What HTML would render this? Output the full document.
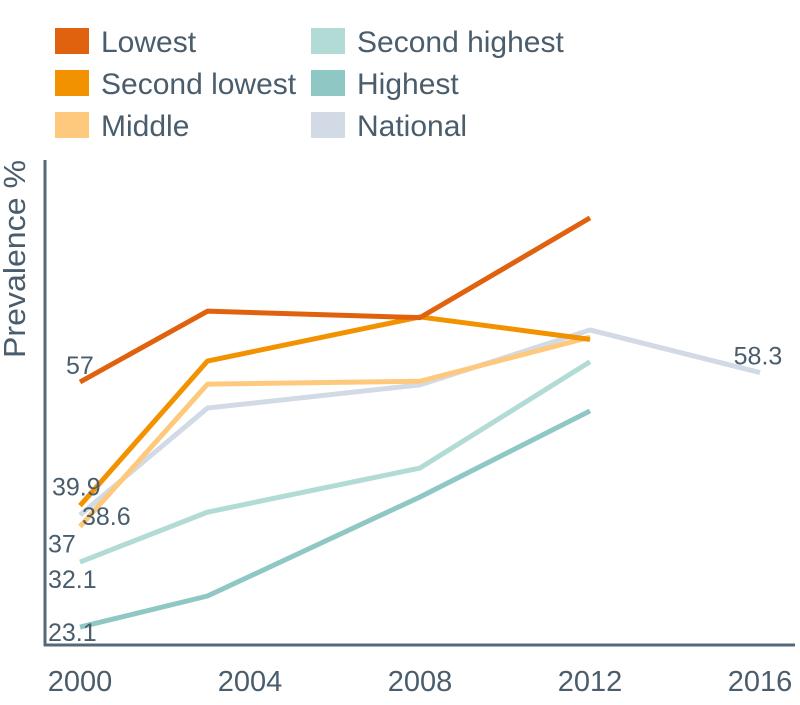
<!DOCTYPE html>
<html><head><meta charset="utf-8"><style>
body{margin:0;background:#fff;width:800px;height:700px;overflow:hidden}
text{font-family:"Liberation Sans",sans-serif;fill:#4a5d6c}
</style></head><body>
<svg id="chart" width="800" height="700" xmlns="http://www.w3.org/2000/svg">
<g id="legend"></g>
<g id="axes">
<line x1="45" y1="160" x2="45" y2="646" stroke="#55687a" stroke-width="3"/>
<line x1="44" y1="645" x2="795" y2="645" stroke="#55687a" stroke-width="3"/>
<text transform="translate(25,358) rotate(-90)" font-size="31" textLength="198" lengthAdjust="spacingAndGlyphs">Prevalence %</text>
</g>
<g id="series"></g>
<g id="labels"></g>
</svg>
<script>
const years=[2000,2003,2008,2012,2016];
const tickYears=[2000,2004,2008,2012,2016];
const seriesNames=["Lowest","Second lowest","Middle","Second highest","Highest","National"];
const lowest=[57,66.8,65.9,79.7,null];
const secondLowest=[39.9,59.9,66.0,62.9,null];
const middle=[37,56.7,57.1,63.2,null];
const secondHighest=[32.1,39.0,45.1,59.8,null];
const highest=[23.1,27.4,41.1,53.0,null];
const national=[38.6,53.4,56.6,64.2,58.3];
const colors=["#e0620f","#f39200","#fec97c","#b2dbd6","#8fc7c4","#d2dae6"];
const NS="http://www.w3.org/2000/svg";
const xS=y=>80+(y-2000)*42.5;
const yS=v=>382-(v-57)*7.23;
function mk(tag,attrs,parent,txt){const e=document.createElementNS(NS,tag);for(const k in attrs)e.setAttribute(k,attrs[k]);if(txt!=null)e.textContent=txt;parent.appendChild(e);return e;}
const legend=document.getElementById('legend');
seriesNames.forEach((n,i)=>{
  const col=i<3?0:1,row=i%3;
  const x=col?311:55,y=28+row*42;
  const r=mk('rect',{x:x,y:y,width:34,height:26,fill:colors[i]},legend);
  
  
  const t=mk('text',{x:x+46,y:y+24,'font-size':30},legend,n);
  
  
});
const axes=document.getElementById('axes');
tickYears.forEach(y=>{
  const t=mk('text',{x:xS(y),y:691,'font-size':29,'text-anchor':'middle'},axes,String(y));
  
  
});
const all=[lowest,secondLowest,middle,secondHighest,highest,national];
const order=[5,4,3,2,1,0];
const sg=document.getElementById('series');
order.forEach(i=>{
  const pts=[];all[i].forEach((v,j)=>{if(v!=null)pts.push(xS(years[j])+','+yS(v));});
  const p=mk('polyline',{points:pts.join(' '),fill:'none',stroke:colors[i],'stroke-width':5,'stroke-linejoin':'round'},sg);
  
  
});
const lg=document.getElementById('labels');
const labs=[[lowest[0],years[0],-14,-8,'start'],[secondLowest[0],years[0],-28,-10,'start'],[national[0],years[0],2,10,'start'],[middle[0],years[0],-32,26,'start'],[secondHighest[0],years[0],-32,26,'start'],[highest[0],years[0],-32,14,'start'],[national[4],years[4],-2,-8,'middle']];
labs.forEach(([v,yr,dx,dy,anc])=>{
  const t=mk('text',{x:xS(yr)+dx,y:yS(v)+dy,'font-size':25,'text-anchor':anc},lg,String(v));
  
  
});
</script>
</body></html>
